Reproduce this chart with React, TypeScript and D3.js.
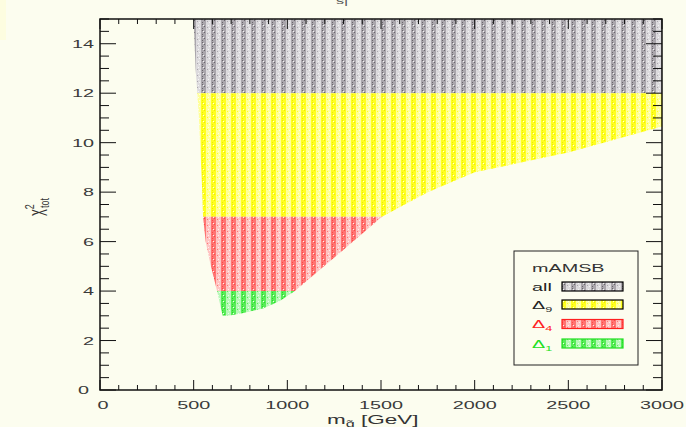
import React from 'react';
import * as d3 from 'd3';

// boundary of the allowed region (gluino mass, chi2)
const leftEdge: [number, number][] = [
  [500, 15], [505, 14], [510, 13], [520, 12], [528, 11], [534, 10], [540, 9],
  [546, 8], [550, 7], [564, 6], [592, 5], [625, 4], [640, 3.5], [655, 3.0],
];
const lowerEdge: [number, number][] = [
  [700, 3.02], [760, 3.1], [870, 3.3], [960, 3.6], [1040, 4.0], [1180, 4.9],
  [1320, 5.8], [1505, 7.0], [1750, 8.0], [2000, 8.8], [2500, 9.6], [3000, 10.65], [3000, 15],
];
// chi2 bands
const bands = [
  { lo: 12, hi: 15, key: 'all' },
  { lo: 7, hi: 12, key: 'd9' },
  { lo: 4, hi: 7, key: 'd4' },
  { lo: 0, hi: 4, key: 'd1' },
];
const xTicks = [0, 500, 1000, 1500, 2000, 2500, 3000];
const yTicks = [0, 2, 4, 6, 8, 10, 12, 14];

const bg = '#fcfdef';
const sx = 1.8; // text in the picture is stretched horizontally
const font = 'Liberation Sans, Arial, sans-serif';

const pats: Record<string, { bg: string; col: string; dot: string; hi: string; stroke: string }> = {
  all: { bg: '#dcdadd', col: '#aaa6ac', dot: '#6a666c', hi: '#f4f4f4', stroke: '#000' },
  d9: { bg: '#ffff98', col: '#ffff20', dot: '#eeee00', hi: '#ffffe0', stroke: '#000' },
  d4: { bg: '#ffc4c2', col: '#ff7472', dot: '#ff4846', hi: '#ffeeee', stroke: '#ff2020' },
  d1: { bg: '#b8f8b8', col: '#58ec58', dot: '#28dc28', hi: '#eaffea', stroke: '#20e020' },
};

function SText(props: any) {
  const { x, y, children, anchor = 'start', ...rest } = props;
  return (
    <g transform={`translate(${x},${y}) scale(${sx},1)`}>
      <text textAnchor={anchor} fontFamily={font} {...rest}>{children}</text>
    </g>
  );
}

export default function App() {
  const x = d3.scaleLinear().domain([0, 3000]).range([100, 662]);
  const y = d3.scaleLinear().domain([0, 15]).range([390, 19]);
  const line = d3.line<[number, number]>().x(d => x(d[0])).y(d => y(d[1]));
  const regionPath = line([...leftEdge, ...lowerEdge]) + 'Z';

  const xMinor = d3.range(0, 3001, 100);
  const yMinor = d3.range(0, 15.01, 0.5);

  const legendRows = [
    { key: 'all', label: 'all', sub: '', color: '#222', y0: 282 },
    { key: 'd9', label: '\u0394', sub: '9', color: '#222', y0: 300 },
    { key: 'd4', label: '\u0394', sub: '4', color: '#ff2020', y0: 319.5 },
    { key: 'd1', label: '\u0394', sub: '1', color: '#20e020', y0: 339 },
  ];

  return (
    <svg width={686} height={427} style={{ position: 'fixed', left: 0, top: 0 }}>
      <defs>
        {Object.entries(pats).map(([k, p]) => (
          <pattern key={k} id={'p-' + k} patternUnits="userSpaceOnUse" width={10} height={6} x={101} y={0}>
            <rect width={10} height={6} fill={p.bg} />
            <rect x={0} width={5} height={6} fill={p.col} />
            <rect x={1} y={0} width={1} height={1} fill={p.dot} />
            <rect x={3} y={2} width={1} height={1} fill={p.dot} />
            <rect x={1} y={4} width={1} height={1} fill={p.dot} />
            <rect x={2} y={1} width={1} height={1} fill={p.hi} />
            <rect x={7} y={1} width={1} height={1} fill={p.hi} />
            <rect x={8} y={4} width={1} height={1} fill={p.hi} />
            <rect x={6} y={3} width={1} height={1} fill={p.col} />
          </pattern>
        ))}
        {bands.map(b => (
          <clipPath key={b.key} id={'c-' + b.key}>
            <rect x={x(0)} y={y(b.hi)} width={x(3000) - x(0)} height={y(b.lo) - y(b.hi)} />
          </clipPath>
        ))}
      </defs>
      <rect width={686} height={427} fill={bg} />
      <rect x={0} y={0} width={6} height={40} fill="#fdfde0" />
      <SText x={336} y={4} fontSize={9} fill="#555">s|</SText>

      {bands.map(b => (
        <path key={b.key} d={regionPath} fill={`url(#p-${b.key})`} clipPath={`url(#c-${b.key})`} />
      ))}

      {/* ticks, inward on all four sides */}
      {xMinor.map(v => {
        const major = v % 500 === 0;
        const len = major ? 10 : 5;
        return (
          <g key={'xt' + v} stroke="#111" strokeWidth={1}>
            <line x1={x(v)} x2={x(v)} y1={y(0)} y2={y(0) - len} />
            <line x1={x(v)} x2={x(v)} y1={y(15)} y2={y(15) + len} />
          </g>
        );
      })}
      {yMinor.map(v => {
        const major = v % 2 === 0;
        const len = major ? 16 : 9;
        return (
          <g key={'yt' + v} stroke="#111" strokeWidth={1}>
            <line x1={x(0)} x2={x(0) + len} y1={y(v)} y2={y(v)} />
            <line x1={x(3000)} x2={x(3000) - len} y1={y(v)} y2={y(v)} />
          </g>
        );
      })}
      <rect x={x(0)} y={y(15)} width={x(3000) - x(0)} height={y(0) - y(15)} fill="none" stroke="#111" strokeWidth={1.5} />

      {xTicks.map(v => (
        <SText key={'xl' + v} x={x(v) + (v === 0 ? 3 : 0)} y={409} anchor="middle" fontSize={11} fill="#3a3a3a">{v}</SText>
      ))}
      {yTicks.map(v => (
        <SText key={'yl' + v} x={v === 0 ? 89 : 94} y={y(v) + 4} anchor="end" fontSize={11} fill="#3a3a3a">{v}</SText>
      ))}

      {/* axis titles */}
      <SText x={327} y={424} fontSize={12.5} fill="#333">
        m<tspan fontSize={9} dy={2.5}>g̃</tspan><tspan dy={-2.5}>{' [GeV]'}</tspan>
      </SText>
      <g transform="translate(43,216) rotate(-90) scale(1,1.5)">
        <text fontFamily={font} fontSize={13} fill="#333">
          χ<tspan fontSize={9} dy={-6}>2</tspan><tspan fontSize={9} x={8} dy={10}>tot</tspan>
        </text>
      </g>

      {/* legend */}
      <rect x={514} y={251} width={124} height={114} fill={bg} stroke="#222" strokeWidth={1} />
      <SText x={532} y={272} fontSize={11} fill="#333">mAMSB</SText>
      {legendRows.map(r => (
        <g key={r.key}>
          <rect x={562} y={r.y0} width={61} height={9} fill={`url(#p-${r.key})`} stroke={pats[r.key].stroke} strokeWidth={1.2} />
          <SText x={532} y={r.y0 + 8.5} fontSize={11} fill={r.color}>
            {r.label}{r.sub && <tspan fontSize={7} dy={3}>{r.sub}</tspan>}
          </SText>
        </g>
      ))}
    </svg>
  );
}
